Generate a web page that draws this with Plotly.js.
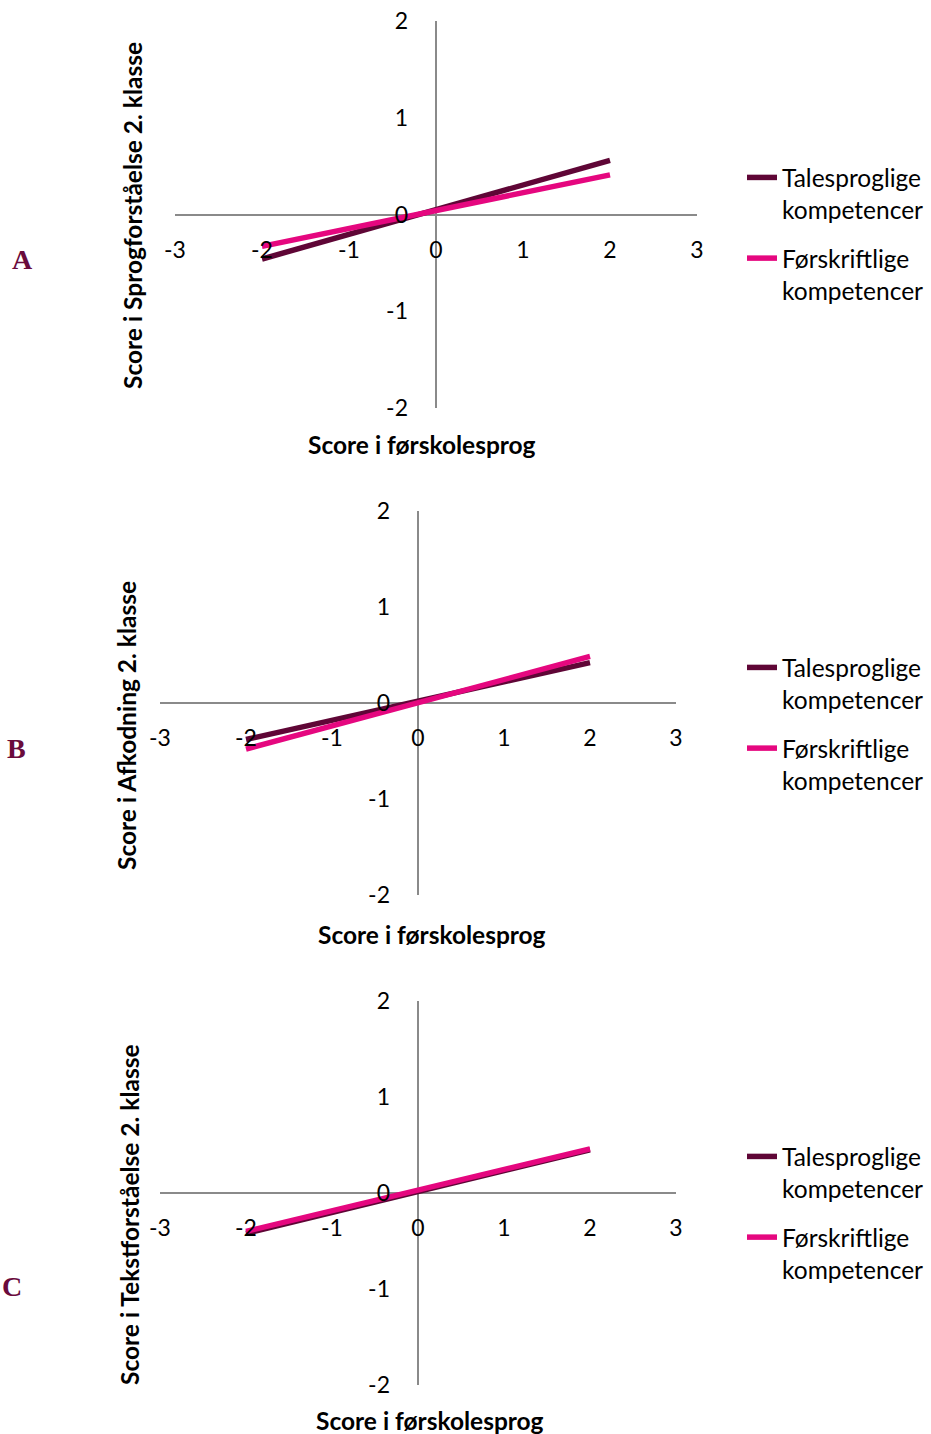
<!DOCTYPE html>
<html>
<head>
<meta charset="utf-8">
<script src="https://cdn.plot.ly/plotly-3.0.1.min.js"></script>
<style>html,body{margin:0;padding:0;background:#fff;}</style>
</head>
<body>
<div id="chart" style="width:931px;height:1434px;"></div>
<script>
// ---- data ----
const xPoints = [-2, 2];
const seriesNames = ["Talesproglige<br>kompetencer", "Førskriftlige<br>kompetencer"];
const panelLabels = ["A", "B", "C"];
const yTitles = ["Score i Sprogforståelse 2. klasse", "Score i Afkodning 2. klasse", "Score i Tekstforståelse 2. klasse"];
const xTitle = "Score i førskolesprog";
const xTicks = [-3, -2, -1, 0, 1, 2, 3];
const yTicks = [-2, -1, 0, 1, 2];
const A_tale = [-0.46, 0.56];
const A_forskrift = [-0.33, 0.41];
const B_tale = [-0.38, 0.42];
const B_forskrift = [-0.48, 0.485];
const C_tale = [-0.42, 0.45];
const C_forskrift = [-0.40, 0.46];

// ---- styles ----
const DARK = "#5f0636";
const PINK = "#e5077f";
const AXIS = "#8a8a8a";
const FONT = "Lato, 'Open Sans', sans-serif";
const H = 1434, W = 931;

const panels = [
  {tale: A_tale, forsk: A_forskrift, x0: 175, x1: 697, yTop: 21, yBot: 408, zeroX: 436, legTop: 155, lab: [22, 259], xt: [422, 444], yt: [133, 216]},
  {tale: B_tale, forsk: B_forskrift, x0: 160, x1: 676, yTop: 511, yBot: 895, zeroX: 418, legTop: 645, lab: [16, 748], xt: [432, 934], yt: [126, 726]},
  {tale: C_tale, forsk: C_forskrift, x0: 160, x1: 676, yTop: 1001, yBot: 1385, zeroX: 418, legTop: 1134, lab: [12, 1286], xt: [430, 1420], yt: [129, 1215]}
];

const traces = [];
const layout = {
  width: W, height: H,
  margin: {l: 0, r: 0, t: 0, b: 0},
  paper_bgcolor: "#fff", plot_bgcolor: "rgba(0,0,0,0)",
  font: {family: FONT, color: "#000", size: 24},
  annotations: [],
  showlegend: true
};

panels.forEach((p, i) => {
  const n = i + 1;
  const xa = n === 1 ? "x" : "x" + n;
  const ya = n === 1 ? "y" : "y" + n;
  const legName = n === 1 ? "legend" : "legend" + n;
  traces.push({x: xPoints, y: p.tale, xaxis: xa, yaxis: ya, mode: "lines", name: seriesNames[0],
    line: {color: DARK, width: 5.5}, legend: legName, legendgroup: "t" + n, hoverinfo: "skip"});
  traces.push({x: xPoints, y: p.forsk, xaxis: xa, yaxis: ya, mode: "lines", name: seriesNames[1],
    line: {color: PINK, width: 5.5}, legend: legName, legendgroup: "f" + n, hoverinfo: "skip"});

  const zeroY = (p.yTop + p.yBot) / 2;
  layout["xaxis" + (n === 1 ? "" : n)] = {
    domain: [p.x0 / W, p.x1 / W], range: [-3, 3],
    anchor: "free", position: 1 - zeroY / H,
    tickvals: xTicks, ticktext: xTicks.map(String), ticks: "", ticklabelstandoff: 19,
    showgrid: false, showline: false,
    zeroline: true, zerolinecolor: AXIS, zerolinewidth: 2,
    tickfont: {family: FONT, size: 23, color: "#000"}, fixedrange: true
  };
  layout["yaxis" + (n === 1 ? "" : n)] = {
    domain: [1 - p.yBot / H, 1 - p.yTop / H], range: [-2, 2],
    anchor: "free", position: p.zeroX / W,
    tickvals: yTicks, ticktext: yTicks.map(String), ticks: "", ticklabelstandoff: 28,
    showgrid: false, showline: false,
    zeroline: true, zerolinecolor: AXIS, zerolinewidth: 2,
    tickfont: {family: FONT, size: 23, color: "#000"}, fixedrange: true
  };
  layout[legName] = {
    x: 742 / W, xanchor: "left", y: 1 - p.legTop / H, yanchor: "top",
    bgcolor: "rgba(0,0,0,0)", font: {family: FONT, size: 24.5, color: "#000"},
    valign: "top", tracegroupgap: 14, traceorder: "grouped"
  };
  layout.annotations.push({
    text: panelLabels[i], xref: "paper", yref: "paper", x: p.lab[0] / W, y: 1 - p.lab[1] / H,
    xanchor: "center", yanchor: "middle", showarrow: false,
    font: {family: "'Liberation Serif', 'Times New Roman', serif", size: 28, color: "#6a0b3c", weight: "bold"}
  });
  layout.annotations.push({
    text: "<b>" + xTitle + "</b>", xref: "paper", yref: "paper", x: p.xt[0] / W, y: 1 - p.xt[1] / H,
    xanchor: "center", yanchor: "middle", showarrow: false,
    font: {family: FONT, size: 24.5, color: "#000"}
  });
  layout.annotations.push({
    text: "<b>" + yTitles[i] + "</b>", xref: "paper", yref: "paper", x: p.yt[0] / W, y: 1 - p.yt[1] / H,
    xanchor: "center", yanchor: "middle", showarrow: false, textangle: -90,
    font: {family: FONT, size: 24.5, color: "#000"}
  });
});

Plotly.newPlot("chart", traces, layout, {displayModeBar: false, staticPlot: true});
</script>
</body>
</html>
